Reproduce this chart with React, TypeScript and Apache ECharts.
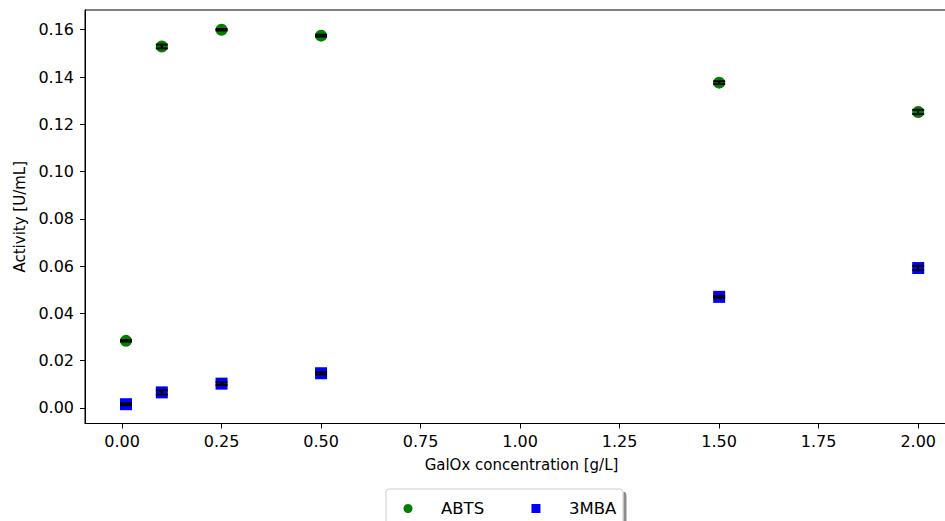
import React, { useEffect, useRef } from 'react';
import * as echarts from 'echarts';

const concentrations = [0.01, 0.1, 0.25, 0.5, 1.5, 2.0];
const abtsValues = [0.0284, 0.1529, 0.16, 0.1575, 0.1376, 0.1252];
const abtsErrors = [0.0003, 0.0008, 0.0003, 0.0004, 0.0006, 0.0009];
const mbaValues = [0.0016, 0.0066, 0.0103, 0.0147, 0.047, 0.0592];
const mbaErrors = [0.0004, 0.0009, 0.0006, 0.0005, 0.0004, 0.0009];
const xTicks = [0, 0.25, 0.5, 0.75, 1.0, 1.25, 1.5, 1.75, 2.0];
const yTicks = [0, 0.02, 0.04, 0.06, 0.08, 0.1, 0.12, 0.14, 0.16];

const FONT = 'DejaVu Sans';

export default function App() {
  const ref = useRef<HTMLDivElement>(null);
  useEffect(() => {
    if (!ref.current) return;
    const chart = echarts.init(ref.current, null, { renderer: 'svg' });
    const abtsData = concentrations.map((c, i) => [c, abtsValues[i]]);
    const mbaData = concentrations.map((c, i) => [c, mbaValues[i]]);
    const errData = [
      ...concentrations.map((c, i) => [c, abtsValues[i], abtsErrors[i]]),
      ...concentrations.map((c, i) => [c, mbaValues[i], mbaErrors[i]]),
    ];
    const nameStyle = { fontFamily: FONT, fontSize: 15, color: '#000' };
    const tickStyle = { fontFamily: FONT, fontSize: 16, color: '#000' };
    chart.setOption({
      animation: false,
      backgroundColor: '#fff',
      grid: {
        left: 85,
        top: 10,
        width: 873,
        height: 413.5,
        show: true,
        borderColor: '#000',
        borderWidth: 1,
        backgroundColor: 'transparent',
      },
      xAxis: {
        type: 'value',
        min: -0.093,
        max: 2.1,
        name: 'GalOx concentration [g/L]',
        nameLocation: 'middle',
        nameGap: 34,
        nameTextStyle: nameStyle,
        axisLine: { show: true, onZero: false, lineStyle: { color: '#000', width: 1 } },
        axisTick: { show: true, length: 5, lineStyle: { color: '#000', width: 1 }, customValues: xTicks },
        axisLabel: { ...tickStyle, margin: 10, customValues: xTicks, formatter: (v: number) => v.toFixed(2) },
        splitLine: { show: false },
      },
      yAxis: {
        type: 'value',
        min: -0.00656,
        max: 0.16834,
        name: 'Activity [U/mL]',
        nameLocation: 'middle',
        nameGap: 56,
        nameTextStyle: nameStyle,
        axisLine: { show: true, onZero: false, lineStyle: { color: '#000', width: 1 } },
        axisTick: { show: true, length: 5, lineStyle: { color: '#000', width: 1 }, customValues: yTicks },
        axisLabel: { ...tickStyle, margin: 11, customValues: yTicks, formatter: (v: number) => v.toFixed(2) },
        splitLine: { show: false },
      },
      legend: {
        left: 386,
        top: 489,
        orient: 'horizontal',
        data: [
          { name: 'ABTS', icon: 'circle' },
          { name: '3MBA', icon: 'path://M0,0L10,0L10,10L0,10Z' },
        ],
        itemWidth: 20,
        itemHeight: 9,
        itemGap: 47.3,
        padding: [11, 6.7, 11, 17.5],
        textStyle: { fontFamily: FONT, fontSize: 16.5, color: '#000', padding: [0, 0, 0, 18] },
        backgroundColor: '#fff',
        borderColor: '#cccccc',
        borderWidth: 1,
        borderRadius: 3,
        shadowColor: 'rgba(0,0,0,0.45)',
        shadowBlur: 1,
        shadowOffsetX: 3,
        shadowOffsetY: 3,
      },
      series: [
        {
          name: 'ABTS',
          type: 'scatter',
          symbol: 'circle',
          symbolSize: 12,
          itemStyle: { color: '#008000', opacity: 1 },
          data: abtsData,
          z: 2,
        },
        {
          name: '3MBA',
          type: 'scatter',
          symbol: 'rect',
          symbolSize: 12,
          itemStyle: { color: '#0000ff', opacity: 1 },
          data: mbaData,
          z: 2,
        },
        {
          name: 'errors',
          type: 'custom',
          z: 3,
          clip: false,
          encode: { x: 0, y: 1 },
          data: errData,
          renderItem: (params: any, api: any) => {
            const x = api.value(0);
            const y = api.value(1);
            const e = api.value(2);
            const top = api.coord([x, y + e]);
            const bot = api.coord([x, y - e]);
            const hw = 6;
            const style = { stroke: '#000', lineWidth: 2 };
            return {
              type: 'group',
              children: [
                { type: 'line', shape: { x1: top[0], y1: top[1], x2: bot[0], y2: bot[1] }, style },
                { type: 'line', shape: { x1: top[0] - hw, y1: top[1], x2: top[0] + hw, y2: top[1] }, style },
                { type: 'line', shape: { x1: bot[0] - hw, y1: bot[1], x2: bot[0] + hw, y2: bot[1] }, style },
              ],
            };
          },
        },
      ],
    });
    return () => chart.dispose();
  }, []);
  return (
    <div style={{ position: 'fixed', left: 0, top: 0, width: 945, height: 521, overflow: 'hidden', background: '#fff' }}>
      <div ref={ref} style={{ width: 1000, height: 521 }} />
    </div>
  );
}
